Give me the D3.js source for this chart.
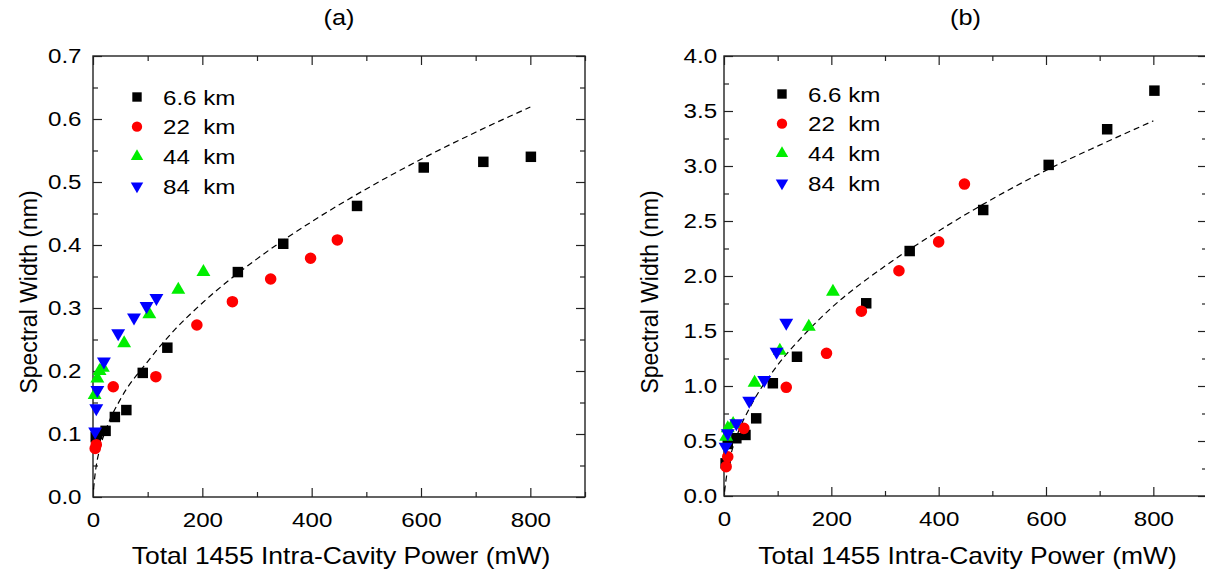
<!DOCTYPE html>
<html>
<head>
<meta charset="utf-8">
<script src="https://cdn.jsdelivr.net/npm/d3@7"></script>
<style>
  body { margin: 0; background: #fff; }
  svg { display: block; font-family: "Liberation Sans", Arial, sans-serif; }
  .tick text { font-size: 21px; fill: #000; }
  .tick line { stroke: #222; stroke-width: 1.2; }
  .legend text { font-size: 21px; fill: #000; white-space: pre; }
</style>
</head>
<body>
<svg id="chart" width="1205" height="577"></svg>
<script>

// series names (legend), same for both panels
var seriesNames = [ '6.6 km', '22  km', '44  km', '84  km' ];

// panel (a): [power mW, spectral width nm]
var a_km6_6 = [ [5, 0.095], [8, 0.100], [23, 0.105], [40, 0.127], [61, 0.138], [91, 0.197], [136, 0.237],
	[265, 0.357], [348, 0.402], [483, 0.462], [605, 0.523], [714, 0.532], [801, 0.540] ];
var a_km22 = [ [4, 0.077], [6, 0.083], [37, 0.175], [115, 0.191], [190, 0.273], [255, 0.310],
	[325, 0.346], [398, 0.379], [447, 0.408] ];
var a_km44 = [ [3, 0.162], [8, 0.188], [12, 0.200], [18, 0.205], [57, 0.244], [103, 0.290],
	[156, 0.329], [202, 0.357] ];
var a_km84 = [ [4, 0.104], [6, 0.141], [8, 0.170], [20, 0.215], [46, 0.260], [75, 0.285],
	[98, 0.303], [116, 0.316] ];
var a_fit = [ [1, 0.012], [3, 0.03], [6, 0.05], [12, 0.075], [25, 0.11], [50, 0.155], [100, 0.215],
	[150, 0.266], [200, 0.308], [300, 0.378], [400, 0.437], [500, 0.489], [600, 0.536], [700, 0.579], [800, 0.619] ];

// panel (b)
var b_km6_6 = [ [3, 0.297], [7, 0.473], [23, 0.525], [40, 0.555], [60, 0.706], [91, 1.025], [136, 1.266],
	[265, 1.752], [346, 2.227], [483, 2.600], [605, 3.010], [714, 3.334], [802, 3.685] ];
var b_km22 = [ [4, 0.267], [7, 0.357], [37, 0.615], [116, 0.988], [191, 1.297], [256, 1.680],
	[326, 2.048], [400, 2.310], [448, 2.836] ];
var b_km44 = [ [4, 0.539], [7, 0.615], [17, 0.655], [57, 1.030], [104, 1.321], [158, 1.539], [203, 1.857] ];
var b_km84 = [ [3, 0.448], [7, 0.570], [23, 0.661], [47, 0.866], [75, 1.055], [98, 1.312], [116, 1.575] ];
var b_fit = [ [1, 0.04], [3, 0.12], [6, 0.22], [12, 0.36], [25, 0.56], [50, 0.82], [100, 1.19],
	[150, 1.47], [200, 1.71], [300, 2.09], [400, 2.41], [500, 2.70], [600, 2.96], [700, 3.19], [800, 3.41] ];

var xTicks = [ 0, 200, 400, 600, 800 ];
var xMinor = [ 100, 300, 500, 700, 900 ];
var aYTicks = [ 0, 0.1, 0.2, 0.3, 0.4, 0.5, 0.6, 0.7 ];
var bYTicks = [ 0, 0.5, 1.0, 1.5, 2.0, 2.5, 3.0, 3.5, 4.0 ];

var svg = d3.select( '#chart' );

// the original text is a bit wider than Liberation Sans
var stretch = 'scale(1.15,1)';

var markerStyles = [
	{ type: d3.symbolSquare, size: 110, color: '#000000', rot: 0 },
	{ type: d3.symbolCircle, size: 105, color: '#ff0000', rot: 0 },
	{ type: d3.symbolTriangle, size: 84, color: '#00ee00', rot: 0 },
	{ type: d3.symbolTriangle, size: 84, color: '#0000ff', rot: 180 }
];

function drawPanel( cfg ) {

	var x = d3.scaleLinear().domain( [ 0, 900 ] ).range( [ 0, cfg.width ] );
	var y = d3.scaleLinear().domain( [ 0, cfg.yMax ] ).range( [ cfg.height, 0 ] );

	var g = svg.append( 'g' )
		.attr( 'transform', 'translate(' + cfg.left + ',' + cfg.top + ')' );

	// minor ticks
	var yMinor = [];
	for ( var i = 0; i < cfg.yTicks.length - 1; i++ ) {
		yMinor.push( ( cfg.yTicks[i] + cfg.yTicks[i + 1] ) / 2 );
	}

	g.append( 'g' ).attr( 'transform', 'translate(0,' + cfg.height + ')' )
		.call( d3.axisBottom( x ).tickValues( xMinor ).tickSize( -5 ).tickFormat( '' ) );
	g.append( 'g' )
		.call( d3.axisTop( x ).tickValues( xMinor ).tickSize( -5 ).tickFormat( '' ) );
	g.append( 'g' )
		.call( d3.axisLeft( y ).tickValues( yMinor ).tickSize( -5 ).tickFormat( '' ) );
	g.append( 'g' ).attr( 'transform', 'translate(' + cfg.width + ',0)' )
		.call( d3.axisRight( y ).tickValues( yMinor ).tickSize( -5 ).tickFormat( '' ) );

	// major ticks
	g.append( 'g' ).attr( 'transform', 'translate(0,' + cfg.height + ')' )
		.call( d3.axisBottom( x ).tickValues( xTicks ).tickSize( -9 ).tickPadding( 15 ).tickFormat( d3.format( 'd' ) ) );
	g.append( 'g' )
		.call( d3.axisTop( x ).tickValues( xTicks ).tickSize( -9 ).tickFormat( '' ) );
	g.append( 'g' )
		.call( d3.axisLeft( y ).tickValues( cfg.yTicks ).tickSize( -9 ).tickPadding( cfg.yPad ).tickFormat( d3.format( '.1f' ) ) );
	g.append( 'g' ).attr( 'transform', 'translate(' + cfg.width + ',0)' )
		.call( d3.axisRight( y ).tickValues( cfg.yTicks ).tickSize( -9 ).tickFormat( '' ) );

	g.selectAll( '.domain' ).remove();
	g.selectAll( '.tick text' )
		.attr( 'font-family', null ).attr( 'font-size', null )
		.attr( 'transform', stretch );

	g.append( 'rect' )
		.attr( 'width', cfg.width ).attr( 'height', cfg.height )
		.attr( 'fill', 'none' ).attr( 'stroke', '#222' ).attr( 'stroke-width', 1.4 );

	// fit line
	var line = d3.line()
		.x( function ( d ) { return x( d[0] ); } )
		.y( function ( d ) { return y( d[1] ); } )
		.curve( d3.curveMonotoneX );

	g.append( 'path' )
		.datum( cfg.fit )
		.attr( 'd', line )
		.attr( 'fill', 'none' )
		.attr( 'stroke', '#000' )
		.attr( 'stroke-width', 1.2 )
		.attr( 'stroke-dasharray', '6,4' );

	// markers
	cfg.series.forEach( function ( pts, k ) {
		var m = markerStyles[k];
		g.append( 'g' ).selectAll( 'path' )
			.data( pts )
			.enter()
			.append( 'path' )
			.attr( 'd', d3.symbol().type( m.type ).size( m.size ) )
			.attr( 'fill', m.color )
			.attr( 'transform', function ( d ) {
				return 'translate(' + x( d[0] ) + ',' + y( d[1] ) + ') rotate(' + m.rot + ')';
			} );
	} );

	// legend
	var leg = g.append( 'g' ).classed( 'legend', true );
	seriesNames.forEach( function ( name, k ) {
		var m = markerStyles[k];
		var ly = cfg.legY + k * cfg.legStep;
		leg.append( 'path' )
			.attr( 'd', d3.symbol().type( m.type ).size( m.size * 0.8 ) )
			.attr( 'fill', m.color )
			.attr( 'transform', 'translate(' + cfg.legX + ',' + ly + ') rotate(' + m.rot + ')' );
		leg.append( 'text' )
			.attr( 'transform', 'translate(' + ( cfg.legX + 26 ) + ',' + ly + ') ' + stretch )
			.attr( 'dy', '0.36em' )
			.text( name );
	} );

	// titles
	svg.append( 'text' )
		.attr( 'transform', 'translate(' + ( cfg.left + cfg.width / 2 ) + ',25) ' + stretch )
		.attr( 'text-anchor', 'middle' )
		.attr( 'font-size', 22 )
		.text( cfg.title );

	svg.append( 'text' )
		.attr( 'transform', 'translate(' + ( cfg.left + cfg.width / 2 + 2 ) + ',564) ' + stretch )
		.attr( 'text-anchor', 'middle' )
		.attr( 'font-size', 23 )
		.text( 'Total 1455 Intra-Cavity Power (mW)' );

	svg.append( 'text' )
		.attr( 'transform', 'translate(' + cfg.yTitleX + ',' + 292 + ') rotate(-90)' )
		.attr( 'text-anchor', 'middle' )
		.attr( 'font-size', 23 )
		.text( 'Spectral Width (nm)' );
}

drawPanel( {
	left: 93, top: 56, width: 492, height: 441,
	yMax: 0.7, yTicks: aYTicks, yPad: 10,
	series: [ a_km6_6, a_km22, a_km44, a_km84 ], fit: a_fit,
	legX: 44, legY: 41, legStep: 29.7,
	title: '(a)', yTitleX: 37
} );

drawPanel( {
	left: 724, top: 56, width: 483, height: 440,
	yMax: 4.0, yTicks: bYTicks, yPad: 6,
	series: [ b_km6_6, b_km22, b_km44, b_km84 ], fit: b_fit,
	legX: 58, legY: 38, legStep: 29.7,
	title: '(b)', yTitleX: 658
} );

</script>
</body>
</html>
